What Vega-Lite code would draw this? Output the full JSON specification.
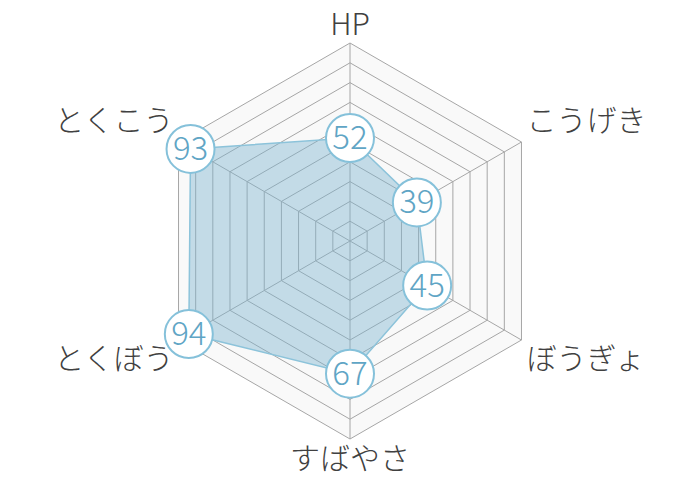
{
  "$schema": "https://vega.github.io/schema/vega-lite/v6.json",
  "width": 700,
  "height": 480,
  "autosize": {"type": "fit", "contains": "padding"},
  "padding": 0,
  "background": "white",
  "config": {"view": {"stroke": null}},
  "datasets": {
    "stats": [
      {"axis": "HP", "i": 0, "value": 52},
      {"axis": "こうげき", "i": 1, "value": 39},
      {"axis": "ぼうぎょ", "i": 2, "value": 45},
      {"axis": "すばやさ", "i": 3, "value": 67},
      {"axis": "とくぼう", "i": 4, "value": 94},
      {"axis": "とくこう", "i": 5, "value": 93}
    ],
    "grid": [
      {"level": 10, "i": [0, 1, 2, 3, 4, 5]},
      {"level": 20, "i": [0, 1, 2, 3, 4, 5]},
      {"level": 30, "i": [0, 1, 2, 3, 4, 5]},
      {"level": 40, "i": [0, 1, 2, 3, 4, 5]},
      {"level": 50, "i": [0, 1, 2, 3, 4, 5]},
      {"level": 60, "i": [0, 1, 2, 3, 4, 5]},
      {"level": 70, "i": [0, 1, 2, 3, 4, 5]},
      {"level": 80, "i": [0, 1, 2, 3, 4, 5]},
      {"level": 90, "i": [0, 1, 2, 3, 4, 5]},
      {"level": 100, "i": [0, 1, 2, 3, 4, 5]}
    ]
  },
  "layer": [
    {
      "data": {"name": "grid"},
      "transform": [
        {"filter": "datum.level == 100"},
        {"flatten": ["i"]},
        {"calculate": "datum.i * PI / 3", "as": "a"},
        {"calculate": "datum.level * sin(datum.a)", "as": "gx"},
        {"calculate": "datum.level * cos(datum.a)", "as": "gy"}
      ],
      "mark": {"type": "line", "interpolate": "linear-closed", "fill": "#f9f9f9", "strokeWidth": 0},
      "encoding": {
        "x": {"field": "gx", "type": "quantitative", "scale": {"domain": [-176.77, 176.77], "nice": false, "zero": false}, "axis": null},
        "y": {"field": "gy", "type": "quantitative", "scale": {"domain": [-120.7, 121.72], "nice": false, "zero": false}, "axis": null},
        "order": {"field": "i", "type": "quantitative"}
      }
    },
    {
      "data": {"name": "grid"},
      "transform": [
        {"flatten": ["i"]},
        {"calculate": "datum.i * PI / 3", "as": "a"},
        {"calculate": "datum.level * sin(datum.a)", "as": "gx"},
        {"calculate": "datum.level * cos(datum.a)", "as": "gy"}
      ],
      "mark": {"type": "line", "interpolate": "linear-closed", "stroke": "#a6a6a6", "strokeWidth": 1},
      "encoding": {
        "x": {"field": "gx", "type": "quantitative"},
        "y": {"field": "gy", "type": "quantitative"},
        "detail": {"field": "level", "type": "nominal"},
        "order": {"field": "i", "type": "quantitative"}
      }
    },
    {
      "data": {"name": "stats"},
      "transform": [
        {"calculate": "datum.i * PI / 3", "as": "a"},
        {"calculate": "0", "as": "ox"},
        {"calculate": "100 * sin(datum.a)", "as": "sx"},
        {"calculate": "100 * cos(datum.a)", "as": "sy"}
      ],
      "mark": {"type": "rule", "stroke": "#a6a6a6", "strokeWidth": 1},
      "encoding": {
        "x": {"field": "ox", "type": "quantitative"},
        "y": {"field": "ox", "type": "quantitative"},
        "x2": {"field": "sx"},
        "y2": {"field": "sy"}
      }
    },
    {
      "data": {"name": "stats"},
      "transform": [
        {"calculate": "datum.i * PI / 3", "as": "a"},
        {"calculate": "datum.value * sin(datum.a)", "as": "px"},
        {"calculate": "datum.value * cos(datum.a)", "as": "py"}
      ],
      "mark": {"type": "line", "interpolate": "linear-closed", "fill": "#7ab3cf", "fillOpacity": 0.42, "stroke": "#8cc3da", "strokeWidth": 1.5},
      "encoding": {
        "x": {"field": "px", "type": "quantitative"},
        "y": {"field": "py", "type": "quantitative"},
        "order": {"field": "i", "type": "quantitative"}
      }
    },
    {
      "data": {"name": "stats"},
      "transform": [
        {"calculate": "datum.i * PI / 3", "as": "a"},
        {"calculate": "datum.value * sin(datum.a)", "as": "px"},
        {"calculate": "datum.value * cos(datum.a)", "as": "py"}
      ],
      "mark": {"type": "point", "shape": "circle", "filled": false, "fill": "white", "fillOpacity": 1, "stroke": "#85c1da", "strokeWidth": 2, "opacity": 1, "size": 2304},
      "encoding": {
        "x": {"field": "px", "type": "quantitative"},
        "y": {"field": "py", "type": "quantitative"}
      }
    },
    {
      "data": {"name": "stats"},
      "transform": [
        {"calculate": "datum.i * PI / 3", "as": "a"},
        {"calculate": "datum.value * sin(datum.a)", "as": "px"},
        {"calculate": "datum.value * cos(datum.a)", "as": "py"}
      ],
      "mark": {"type": "text", "font": "Noto Sans CJK JP", "fontWeight": 300, "fontSize": 33, "color": "#5fa5c5", "align": "center", "baseline": "middle", "dy": 1},
      "encoding": {
        "x": {"field": "px", "type": "quantitative"},
        "y": {"field": "py", "type": "quantitative"},
        "text": {"field": "value", "type": "quantitative"}
      }
    },
    {
      "data": {"name": "stats"},
      "transform": [
        {"filter": "datum.i == 0 || datum.i == 3"},
        {"calculate": "datum.i * PI / 3", "as": "a"},
        {"calculate": "110.6 * sin(datum.a)", "as": "lx"},
        {"calculate": "110.6 * cos(datum.a) + (datum.i == 0 ? -2 : 0)", "as": "ly"}
      ],
      "mark": {"type": "text", "font": "Noto Sans CJK JP", "fontWeight": 300, "fontSize": 30, "color": "#404040", "align": "center", "baseline": "middle"},
      "encoding": {
        "x": {"field": "lx", "type": "quantitative"},
        "y": {"field": "ly", "type": "quantitative"},
        "text": {"field": "axis", "type": "nominal"}
      }
    },
    {
      "data": {"name": "stats"},
      "transform": [
        {"filter": "datum.i == 1 || datum.i == 2"},
        {"calculate": "datum.i * PI / 3", "as": "a"},
        {"calculate": "103 * sin(datum.a)", "as": "lx"},
        {"calculate": "103 * cos(datum.a) + (datum.i == 1 ? 8.6 : -8.6)", "as": "ly"}
      ],
      "mark": {"type": "text", "font": "Noto Sans CJK JP", "fontWeight": 300, "fontSize": 30, "color": "#404040", "align": "left", "baseline": "middle"},
      "encoding": {
        "x": {"field": "lx", "type": "quantitative"},
        "y": {"field": "ly", "type": "quantitative"},
        "text": {"field": "axis", "type": "nominal"}
      }
    },
    {
      "data": {"name": "stats"},
      "transform": [
        {"filter": "datum.i == 4 || datum.i == 5"},
        {"calculate": "datum.i * PI / 3", "as": "a"},
        {"calculate": "103 * sin(datum.a)", "as": "lx"},
        {"calculate": "103 * cos(datum.a) + (datum.i == 5 ? 8.6 : -8.6)", "as": "ly"}
      ],
      "mark": {"type": "text", "font": "Noto Sans CJK JP", "fontWeight": 300, "fontSize": 30, "color": "#404040", "align": "right", "baseline": "middle"},
      "encoding": {
        "x": {"field": "lx", "type": "quantitative"},
        "y": {"field": "ly", "type": "quantitative"},
        "text": {"field": "axis", "type": "nominal"}
      }
    }
  ]
}
